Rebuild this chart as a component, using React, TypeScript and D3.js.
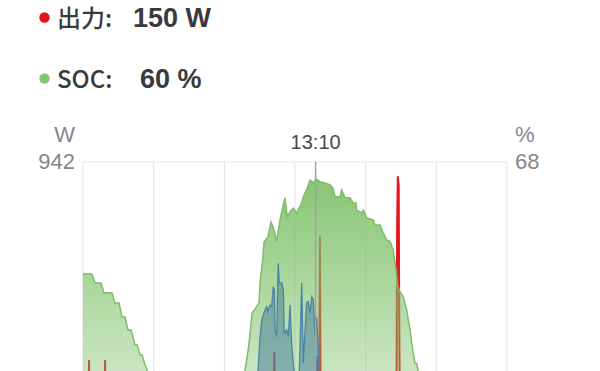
import React from "react";
import * as d3 from "d3";

// ---- data ----
const xTickHours = [0, 4, 8, 12, 16, 20, 24];
const cursorHour = 13 + 10 / 60;
const cursorLabel = "13:10";
const wMax = 942;
const pctMax = 68;
const legendLabels = ["出力:", "SOC:"];
const legendValues = ["150 W", "60 %"];

// SOC (%), green area
const socHours = [0, 0.51, 0.68, 1.02, 1.19, 1.64, 1.81, 2.04, 2.21, 2.38, 2.55, 2.72, 2.94, 3.06, 3.23, 3.35, 3.51, 3.79, 4.08, 4.25,
  8.77, 9.17, 9.4, 9.57, 9.78, 9.96, 10.03, 10.13, 10.25, 10.47, 10.64, 10.8, 10.96, 11.15, 11.43, 11.56, 11.72, 11.9, 12.1, 12.38, 12.47, 12.7, 12.85,
  13.04, 13.19, 13.41, 13.7, 13.98, 14.15, 14.27, 14.55, 14.64, 14.83, 15.11, 15.3, 15.45, 15.49, 15.78, 15.87, 16.06, 16.43,
  16.53, 16.81, 17.0, 17.19, 17.38, 17.56, 17.72, 17.79, 17.94, 18.13, 18.32, 18.51, 18.66, 18.79, 18.89, 18.98, 19.08, 24];
const socValues = [39.6, 39.6, 37.3, 37.3, 34.8, 34.8, 32.2, 32.2, 28.7, 28.7, 25.4, 25.4, 21.6, 21.6, 19.0, 19.0, 16.5, 13.2, 7.6, 0,
  0, 15.0, 22.0, 29.7, 31.0, 32.2, 38.0, 41.4, 47.7, 49.0, 52.8, 51.0, 47.8, 53.3, 58.9, 54.1, 55.4, 56.3, 55.1, 57.6, 59.2, 61.4, 63.4,
  62.7, 63.7, 63.0, 62.7, 62.2, 61.4, 59.2, 59.2, 60.9, 58.9, 58.9, 57.6, 57.6, 55.8, 55.1, 55.8, 53.8, 53.3,
  52.0, 52.0, 50.0, 48.2, 47.8, 45.7, 40.6, 36.8, 35.1, 33.8, 30.4, 25.4, 20.3, 16.9, 16.9, 14.7, 0, 0];

// input power (W), blue area
const inHours = [9.74, 9.91, 10.02, 10.12, 10.3, 10.4, 10.47, 10.58, 10.68, 10.77, 10.83, 10.87, 10.96, 11.05, 11.11, 11.25, 11.34, 11.39,
  11.53, 11.62, 11.72, 11.81, 11.9, 12.0, 12.11, 12.23, 12.38, 12.47, 12.57, 12.66, 12.75, 12.85, 12.95, 13.04, 13.13, 13.23, 13.32, 13.41, 13.53];
const inValues = [0, 211, 327, 387, 422, 433, 415, 439, 433, 503, 492, 352, 329, 586, 517, 517, 492, 341,
  352, 329, 439, 306, 236, 176, 105, 176, 517, 236, 352, 447, 452, 411, 468, 457, 329, 398, 271, 105, 0];

// output power (W), red line
const outHours = [0, 0.3, 0.34, 0.38, 1.21, 1.25, 1.29, 10.79, 10.83, 10.87, 13.21, 13.25, 13.3, 13.36, 13.41, 13.46, 17.74, 17.78, 17.82, 17.87, 17.9, 17.94, 24];
const outValues = [0, 0, 243, 0, 0, 243, 0, 0, 271, 0, 0, 257, 0, 0, 678, 0, 0, 700, 889, 860, 400, 0, 0];

const W = 600, H = 371;
const left = 83, right = 507, top = 162, bottom = 430;

export default function App() {
  const x = d3.scaleLinear().domain([0, 24]).range([left, right]);
  const yW = d3.scaleLinear().domain([0, wMax]).range([bottom, top]);
  const yP = d3.scaleLinear().domain([0, pctMax]).range([bottom, top]);

  const socData = socHours.map((h, i) => [h, socValues[i]] as [number, number]);
  const inData = inHours.map((h, i) => [h, inValues[i]] as [number, number]);
  const outData = outHours.map((h, i) => [h, outValues[i]] as [number, number]);

  const socArea = d3.area<[number, number]>().x(d => x(d[0])).y0(yP(0)).y1(d => yP(d[1]));
  const socLine = d3.line<[number, number]>().x(d => x(d[0])).y(d => yP(d[1]));
  const inArea = d3.area<[number, number]>().x(d => x(d[0])).y0(yW(0)).y1(d => yW(d[1]));
  const inLine = d3.line<[number, number]>().x(d => x(d[0])).y(d => yW(d[1]));
  const outLine = d3.line<[number, number]>().x(d => x(d[0])).y(d => yW(d[1]));

  const font = "'Liberation Sans', Arial, 'Noto Sans CJK JP', sans-serif";
  const cjk = "'Noto Sans CJK JP', 'Liberation Sans', sans-serif";
  const colors = ["#e3141b", "#85c670"];

  return (
    <div style={{ position: "absolute", left: 0, top: 0, width: W, height: H, background: "#fff" }}>
      <svg width={W} height={H} style={{ display: "block" }}>
        <defs>
          <linearGradient id="socGrad" gradientUnits="userSpaceOnUse" x1="0" y1={top} x2="0" y2={bottom}>
            <stop offset="0" stopColor="#7cc066" stopOpacity={0.95} />
            <stop offset="1" stopColor="#7cc066" stopOpacity={0.25} />
          </linearGradient>
          <clipPath id="plotClip">
            <rect x={left} y={top} width={right - left} height={bottom - top} />
          </clipPath>
        </defs>

        {/* legend */}
        {legendLabels.map((lab, i) => (
          <g key={lab}>
            <circle cx={44.5} cy={i === 0 ? 17.5 : 78.5} r={5.2} fill={colors[i]} />
            <text x={57} y={i === 0 ? 27 : 88} fontFamily={cjk} fontSize={24} fill="#3a3a3c" fontWeight={500}>{lab}</text>
            <text x={i === 0 ? 133 : 140} y={i === 0 ? 27 : 88} fontFamily={font} fontSize={27} fontWeight="bold" fill="#3a3a3c">{legendValues[i]}</text>
          </g>
        ))}

        {/* axis labels */}
        <text x={75} y={142} textAnchor="end" fontFamily={font} fontSize={22} fill="#86868b">W</text>
        <text x={75} y={169} textAnchor="end" fontFamily={font} fontSize={22} fill="#86868b">{wMax}</text>
        <text x={515} y={142} fontFamily={font} fontSize={22} fill="#86868b">%</text>
        <text x={515} y={169} fontFamily={font} fontSize={22} fill="#86868b">{pctMax}</text>
        <text x={x(cursorHour)} y={149} textAnchor="middle" fontFamily={font} fontSize={20} fill="#4a4a4c">{cursorLabel}</text>

        {/* grid */}
        {xTickHours.map(h => (
          <line key={h} x1={x(h)} x2={x(h)} y1={top} y2={bottom} stroke="#e3e3e6" strokeWidth={1} />
        ))}
        <line x1={left} x2={right} y1={top} y2={top} stroke="#e3e3e6" strokeWidth={1} />

        <g clipPath="url(#plotClip)">
          <path d={outLine(outData) || ""} fill="none" stroke="#e3141b" strokeWidth={2} strokeLinejoin="round" />
          <path d={socArea(socData) || ""} fill="url(#socGrad)" />
          <path d={socLine(socData) || ""} fill="none" stroke="#7dbd68" strokeWidth={1.5} />
          <path d={inArea(inData) || ""} fill="#3d7896" fillOpacity={0.5} />
          <path d={inLine(inData) || ""} fill="none" stroke="#4a84a4" strokeWidth={1.3} />
        </g>

        <line x1={x(cursorHour)} x2={x(cursorHour)} y1={top} y2={bottom} stroke="#a0a0a5" strokeWidth={1.5} />
      </svg>
    </div>
  );
}
